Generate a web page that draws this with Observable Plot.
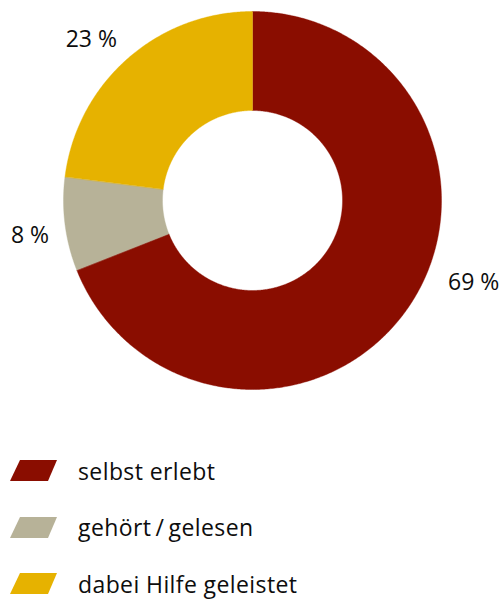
<!DOCTYPE html>
<html><head><meta charset="utf-8">
<script src="https://cdn.jsdelivr.net/npm/d3@7"></script>
<script src="https://cdn.jsdelivr.net/npm/@observablehq/plot@0.6"></script>
<style>
body{margin:0;background:#fff;font-family:"Open Sans",sans-serif;color:#0d0d0d;}
#chart svg{display:block;}
#legend{margin-top:23px;}
.row{height:56.5px;display:flex;align-items:center;}
.row svg{margin-left:10px;margin-right:20px;flex:none;}
.row span{font-size:23px;letter-spacing:0.4px;line-height:1;}
</style></head><body>
<div id="chart"></div>
<div id="legend"></div>
<script>
const categories = ["selbst erlebt", "gehört/gelesen", "dabei Hilfe geleistet"];
const shares = [69, 8, 23];
const colors = ["#8a0d00", "#b7b298", "#e6b200"];
const valueLabels = ["69 %", "8 %", "23 %"];

const W = 501, H = 420, cx = 252, cy = 200, rOuter = 189, rInner = 90, rLabel = 205;
const slices = d3.pie().sort(null).value(d => d.value)(
  categories.map((c, i) => ({name: c, value: shares[i], color: colors[i], label: valueLabels[i]}))
);
const ringPts = [];
for (const s of slices) {
  const n = Math.max(2, Math.ceil((s.endAngle - s.startAngle) / (Math.PI / 360)));
  for (let k = 0; k <= n; k++) {
    const a = s.startAngle + (s.endAngle - s.startAngle) * k / n;
    ringPts.push({name: s.data.name, x: cx + rOuter * Math.sin(a), y: cy - rOuter * Math.cos(a)});
  }
  for (let k = n; k >= 0; k--) {
    const a = s.startAngle + (s.endAngle - s.startAngle) * k / n;
    ringPts.push({name: s.data.name, x: cx + rInner * Math.sin(a), y: cy - rInner * Math.cos(a)});
  }
}
const labelMarks = slices.map((s, i) => {
  const m = (s.startAngle + s.endAngle) / 2;
  const d = {x: cx + rLabel * Math.sin(m), y: cy - rLabel * Math.cos(m), text: s.data.label};
  const nudge = i === 0 ? {dx: 26, dy: -42} : {dx: 0, dy: 0};
  return Plot.text([d], {
    x: "x", y: "y", text: "text",
    textAnchor: Math.sin(m) >= 0 ? "start" : "end",
    lineAnchor: Math.cos(m) < 0 ? "top" : "bottom",
    fontSize: 23, fill: "#0d0d0d", ...nudge
  });
});

const chart = Plot.plot({
  width: W, height: H,
  margin: 0,
  x: {domain: [0, W], range: [0, W], axis: null},
  y: {domain: [0, H], range: [0, H], axis: null},
  color: {domain: categories, range: colors},
  style: {fontFamily: "'Open Sans', sans-serif", background: "#fff"},
  marks: [
    Plot.line(ringPts, {x: "x", y: "y", z: "name", fill: "name", stroke: "name", strokeWidth: 0.4, curve: "linear-closed"}),
    ...labelMarks
  ]
});
document.getElementById("chart").appendChild(chart);

const legend = document.getElementById("legend");
categories.forEach((c, i) => {
  const row = document.createElement("div");
  row.className = "row";
  row.innerHTML = `<svg width="48" height="22"><polygon points="10,0 47,0 38,21 0,21" fill="${colors[i]}"/></svg><span>${c.replace("/", "\u2009/\u2009")}</span>`;
  legend.appendChild(row);
});
</script>
</body></html>
